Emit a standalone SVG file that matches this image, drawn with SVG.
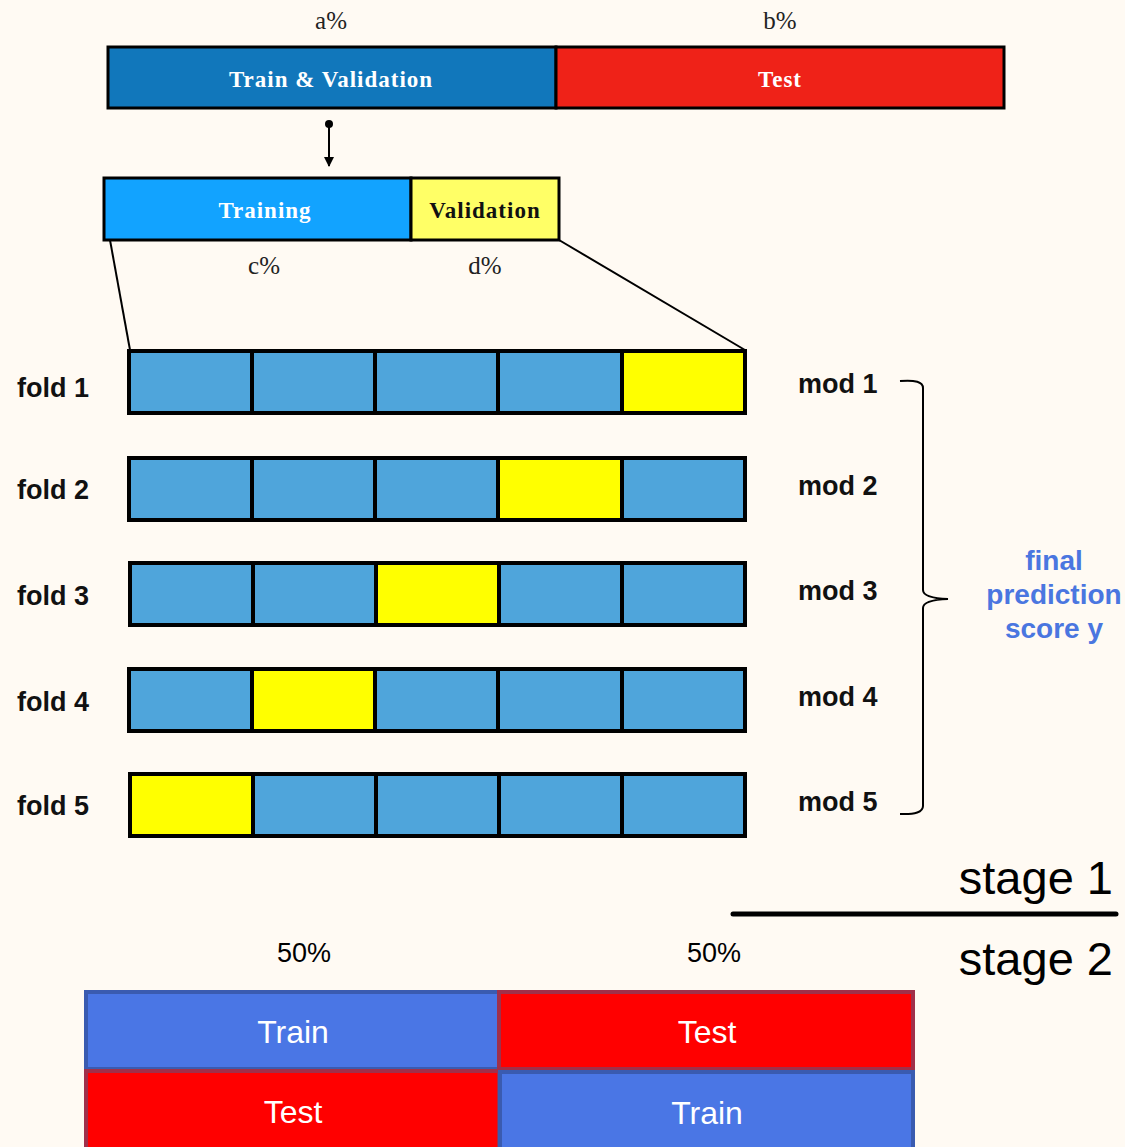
<svg xmlns="http://www.w3.org/2000/svg" width="1125" height="1147" viewBox="0 0 1125 1147">
  <defs>
    <marker id="arrow" viewBox="0 0 10 10" refX="9" refY="5" markerWidth="10" markerHeight="10" markerUnits="userSpaceOnUse" orient="auto">
      <path d="M0,0 L10,5 L0,10 z" fill="#000"/>
    </marker>
    <style>
      .serif { font-family: "Liberation Serif", "DejaVu Serif", serif; }
      .pct { font-size: 25px; fill: #222; text-anchor: middle; }
      .barlbl { font-size: 23px; font-weight: bold; letter-spacing: 1px; text-anchor: middle; }
      .cell { fill: #4fa5db; stroke: #000; stroke-width: 4; }
      .val { fill: #ffff00; stroke: #000; stroke-width: 4; }
      .lbl { font-family: "Liberation Sans", Arial, sans-serif; font-size: 27px; font-weight: bold; fill: #111; }
      .sans { font-family: "Liberation Sans", Arial, sans-serif; }
      .stage { font-size: 47px; fill: #000; text-anchor: end; }
      .half { font-size: 27px; fill: #000; text-anchor: middle; }
      .s2 { font-size: 32px; fill: #fff; text-anchor: middle; }
      .blue2 { fill: #4a76e5; stroke: #3a5bb0; stroke-width: 4; }
      .red2 { fill: #ff0000; stroke: #a0304a; stroke-width: 4; }
    </style>
  </defs>
  <rect width="1125" height="1147" fill="#fffaf3"/>

  <!-- top split -->
  <g id="split-top">
    <text class="serif pct" x="331" y="29">a%</text>
    <text class="serif pct" x="780" y="29">b%</text>
    <rect x="108" y="47" width="448" height="61" fill="#1177bb" stroke="#000" stroke-width="3"/>
    <rect x="556" y="47" width="448" height="61" fill="#ef2218" stroke="#000" stroke-width="3"/>
    <text class="serif barlbl" x="331" y="87" fill="#fff">Train &amp; Validation</text>
    <text class="serif barlbl" x="780" y="87" fill="#fff">Test</text>
  </g>

  <!-- training / validation split -->
  <g id="split-train">
    <rect x="104" y="178" width="307" height="62" fill="#12a3ff" stroke="#000" stroke-width="3"/>
    <rect x="411" y="178" width="148" height="62" fill="#ffff66" stroke="#000" stroke-width="3"/>
    <text class="serif barlbl" x="265" y="218" fill="#fff">Training</text>
    <text class="serif barlbl" x="485" y="218" fill="#111">Validation</text>
    <text class="serif pct" x="264" y="274">c%</text>
    <text class="serif pct" x="485" y="274">d%</text>
  </g>

  <!-- folds -->
  <g id="fold1">
    <rect class="cell" x="129" y="351" width="123" height="62"/>
    <rect class="cell" x="252" y="351" width="123" height="62"/>
    <rect class="cell" x="375" y="351" width="123" height="62"/>
    <rect class="cell" x="498" y="351" width="124" height="62"/>
    <rect class="val" x="622" y="351" width="123" height="62"/>
    <text class="lbl" x="17" y="397">fold 1</text>
    <text class="lbl" x="798" y="393">mod 1</text>
  </g>
  <g id="fold2">
    <rect class="cell" x="129" y="458" width="123" height="62"/>
    <rect class="cell" x="252" y="458" width="123" height="62"/>
    <rect class="cell" x="375" y="458" width="123" height="62"/>
    <rect class="val" x="498" y="458" width="124" height="62"/>
    <rect class="cell" x="622" y="458" width="123" height="62"/>
    <text class="lbl" x="17" y="499">fold 2</text>
    <text class="lbl" x="798" y="495">mod 2</text>
  </g>
  <g id="fold3">
    <rect class="cell" x="130" y="563" width="123" height="62"/>
    <rect class="cell" x="253" y="563" width="123" height="62"/>
    <rect class="val" x="376" y="563" width="123" height="62"/>
    <rect class="cell" x="499" y="563" width="123" height="62"/>
    <rect class="cell" x="622" y="563" width="123" height="62"/>
    <text class="lbl" x="17" y="605">fold 3</text>
    <text class="lbl" x="798" y="600">mod 3</text>
  </g>
  <g id="fold4">
    <rect class="cell" x="129" y="669" width="123" height="62"/>
    <rect class="val" x="252" y="669" width="123" height="62"/>
    <rect class="cell" x="375" y="669" width="123" height="62"/>
    <rect class="cell" x="498" y="669" width="124" height="62"/>
    <rect class="cell" x="622" y="669" width="123" height="62"/>
    <text class="lbl" x="17" y="711">fold 4</text>
    <text class="lbl" x="798" y="706">mod 4</text>
  </g>
  <g id="fold5">
    <rect class="val" x="130" y="774" width="123" height="62"/>
    <rect class="cell" x="253" y="774" width="123" height="62"/>
    <rect class="cell" x="376" y="774" width="123" height="62"/>
    <rect class="cell" x="499" y="774" width="123" height="62"/>
    <rect class="cell" x="622" y="774" width="123" height="62"/>
    <text class="lbl" x="17" y="815">fold 5</text>
    <text class="lbl" x="798" y="811">mod 5</text>
  </g>

  <!-- result -->
  <g id="final" class="sans" font-size="28" font-weight="bold" fill="#4a76e0" text-anchor="middle">
    <text x="1054" y="570">final</text>
    <text x="1054" y="604">prediction</text>
    <text x="1054" y="638">score y</text>
  </g>

  <!-- stage divider -->
  <g id="stages">
    <text class="sans stage" x="1113" y="894">stage 1</text>
    <line x1="733" y1="914" x2="1116" y2="914" stroke="#000" stroke-width="5" stroke-linecap="round"/>
    <text class="sans stage" x="1113" y="975">stage 2</text>
  </g>

  <!-- stage 2 split -->
  <g id="stage2-split">
    <text class="sans half" x="304" y="962">50%</text>
    <text class="sans half" x="714" y="962">50%</text>
    <rect class="blue2" x="86" y="992" width="413" height="77"/>
    <rect class="red2" x="499" y="992" width="414" height="77"/>
    <rect class="red2" x="86" y="1071" width="413" height="80"/>
    <rect class="blue2" x="500" y="1072" width="413" height="80"/>
    <text class="sans s2" x="293" y="1043">Train</text>
    <text class="sans s2" x="707" y="1043">Test</text>
    <text class="sans s2" x="293" y="1123">Test</text>
    <text class="sans s2" x="707" y="1124">Train</text>
  </g>

  <!-- connectors -->
  <g id="connectors" fill="none" stroke="#000">
    <circle cx="329" cy="124" r="4" fill="#000" stroke="none"/>
    <line x1="329" y1="124" x2="329" y2="166" stroke-width="2" marker-end="url(#arrow)"/>
    <line x1="110" y1="240" x2="130" y2="350" stroke-width="2"/>
    <line x1="559" y1="240" x2="745" y2="350" stroke-width="2"/>
    <path d="M900,381 Q923,379 923,388 L923,590 Q923,598 948,599 Q923,600 923,608 L923,806 Q923,815 900,814" stroke-width="2"/>
  </g>
</svg>
